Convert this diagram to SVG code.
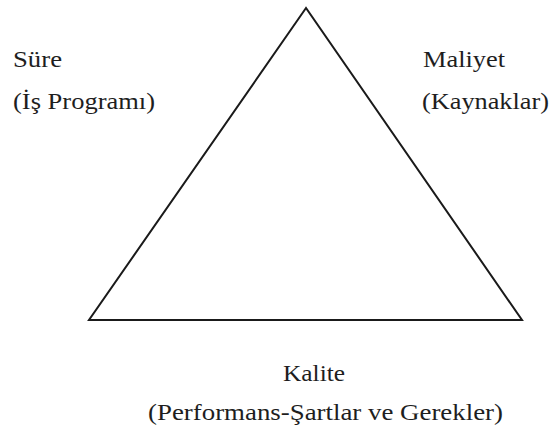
<svg xmlns="http://www.w3.org/2000/svg" width="550" height="435" viewBox="0 0 550 435">
  <defs>
    <style>
      .lbl { fill: #1e1e1e; }
      .edge { fill: none; stroke: #1a1a1a; stroke-width: 2; stroke-linejoin: miter; }
    </style>
  </defs>
  <rect width="550" height="435" fill="#ffffff"/>
  <!-- project management triangle -->
  <g id="connectors">
    <polygon class="edge" points="306,8 89,320 522,320"/>
  </g>
  <g id="node-sure" font-family="'Liberation Serif', 'Times New Roman', serif" font-size="24">
    <text class="lbl" x="13" y="67" textLength="49" lengthAdjust="spacingAndGlyphs">Süre</text>
    <text class="lbl" x="13" y="109" textLength="142" lengthAdjust="spacingAndGlyphs">(İş Programı)</text>
  </g>
  <g id="node-maliyet" font-family="'Liberation Serif', 'Times New Roman', serif" font-size="24">
    <text class="lbl" x="423" y="67" textLength="82" lengthAdjust="spacingAndGlyphs">Maliyet</text>
    <text class="lbl" x="422" y="109" textLength="127" lengthAdjust="spacingAndGlyphs">(Kaynaklar)</text>
  </g>
  <g id="node-kalite" font-family="'Liberation Serif', 'Times New Roman', serif" font-size="24">
    <text class="lbl" x="283" y="381" textLength="62" lengthAdjust="spacingAndGlyphs">Kalite</text>
    <text class="lbl" x="148" y="420" textLength="355" lengthAdjust="spacingAndGlyphs">(Performans-Şartlar ve Gerekler)</text>
  </g>
</svg>
